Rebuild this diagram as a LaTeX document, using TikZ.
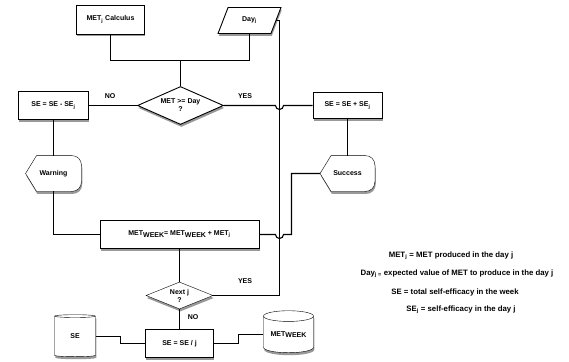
\documentclass[tikz,border=0pt]{standalone}
\usepackage{fontspec}
\setmainfont{Liberation Sans}
\usetikzlibrary{shapes.geometric,shadows,calc,backgrounds}
\newcommand\sbj{\textsubscript{j}}
\newcommand\wk{\raisebox{-0.45ex}{WEEK}}
\newcommand\dispshape[1]{%
  \draw[fill=white, shd] (#1.west) -- ($(#1.north west)+(11,0)$) -- ($(#1.north east)+(-10,0)$)
    .. controls ($(#1.north east)+(-4,0)$) and ($(#1.north east)+(0,4)$) .. ($(#1.north east)+(0,10)$)
    -- ($(#1.south east)+(0,-10)$)
    .. controls ($(#1.south east)+(0,-4)$) and ($(#1.south east)+(-4,0)$) .. ($(#1.south east)+(-10,0)$)
    -- ($(#1.south west)+(11,0)$) -- cycle;}
\begin{document}
\begin{tikzpicture}[x=1pt,y=-1pt, line width=0.9pt,
  every node/.style={font=\fontsize{7}{8}\selectfont\bfseries, inner sep=0pt},
  shd/.style={drop shadow={shadow xshift=0.8pt, shadow yshift=-2.5pt, fill=black, opacity=0.4}},
  procbox/.style={draw, fill=white, rectangle, shd},
  decision/.style={draw, fill=white, diamond, shd, align=center},
  store/.style={draw, fill=white, cylinder, shape border rotate=90, aspect=0.3, shd},
  conn/.style={draw=black, line width=1.1pt, opacity=1},
  legend/.style={font=\fontsize{7.8}{9}\selectfont\bfseries}]
\useasboundingbox (0,0) rectangle (569,361);

% nodes
\node[procbox, minimum width=68, minimum height=29] (calc) at (110.5,19.5) {MET\sbj{} Calculus};
\node[draw, fill=white, trapezium, trapezium left angle=64, trapezium right angle=116,
      trapezium stretches=true, minimum width=63, minimum height=26, shd] (day) at (249.5,20.5) {Day\sbj};
\node[decision, aspect=2.2, minimum width=86, minimum height=38] (test) at (180.5,105.5) {MET >= Day\\?};
\node[procbox, minimum width=70, minimum height=28] (dec) at (53.5,105.5) {SE = SE - SE\sbj};
\node[procbox, minimum width=69, minimum height=26] (inc) at (347.5,105.5) {SE = SE + SE\sbj};
\node[minimum width=55, minimum height=35] (warn) at (53.5,173.5) {Warning};
\node[minimum width=54, minimum height=35] (succ) at (347.5,173.5) {Success};
\begin{pgfonlayer}{background}
\dispshape{warn}
\dispshape{succ}
\end{pgfonlayer}
\node[procbox, minimum width=159, minimum height=28] (sum) at (179.5,234.5) {MET\wk= MET\wk{} + MET\sbj};
\node[decision, aspect=2.5, minimum width=67, minimum height=27] (next) at (179.5,295.5) {Next j\\?};
\node[procbox, minimum width=68, minimum height=28] (avg) at (179.5,343.5) {SE = SE / j};
\node[store, minimum width=41, minimum height=42] (sedb) at (75,336.5) {SE};
\node[store, minimum width=50, minimum height=42] (metdb) at (288.5,334.5) {MET\wk};

% labels
\node (no1) at (110,96) {NO};
\node (yes1) at (245,96) {YES};
\node (yes2) at (245,281) {YES};
\node (no2) at (193,317) {NO};

% legend
\node[legend] (l1) at (451,256) {MET\sbj{} = MET produced in the day j};
\node[legend] (l2) at (457,274) {Day\textsubscript{j =} expected value of MET to produce in the day j};
\node[legend] (l3) at (455,292) {SE = total self-efficacy in the week};
\node[legend] (l4) at (461,310) {SE\sbj{} = self-efficacy in the day j};

% connectors
\coordinate (join) at (180.5,60.5);
\coordinate (vx) at (279.5,20.5);
\coordinate (sx) at (291.5,234.5);
\draw[conn] (calc.south) |- (join) -| (day.south);
\draw[conn] (join) -- (test.north);
\draw[conn] (test.west) -- (dec.east);
\draw[conn] (test.east) -- ($(vx|-test.east)+(-4,0)$) arc[start angle=180, end angle=0, radius=4] -- (inc.west);
\draw[conn] (next.east) -| (vx) -- (day.east);
\draw[conn] (dec.south) -- (warn.north);
\draw[conn] (warn.south) |- (sum.west);
\draw[conn] (inc.south) -- (succ.north);
\draw[conn] (succ.west) -| (sx) -- ($(vx|-sum.east)+(4,0)$) arc[start angle=0, end angle=180, radius=4] -- (sum.east);
\draw[conn] (sum.south) -- (next.north);
\draw[conn] (next.south) -- (avg.north);
\draw[conn] (sedb.east) -| ($(sedb.east)!.5!(avg.west)$) |- (avg.west);
\draw[conn] (avg.east) -| ($(avg.east)!.5!(metdb.west)$) |- (metdb.west);
\end{tikzpicture}
\end{document}
